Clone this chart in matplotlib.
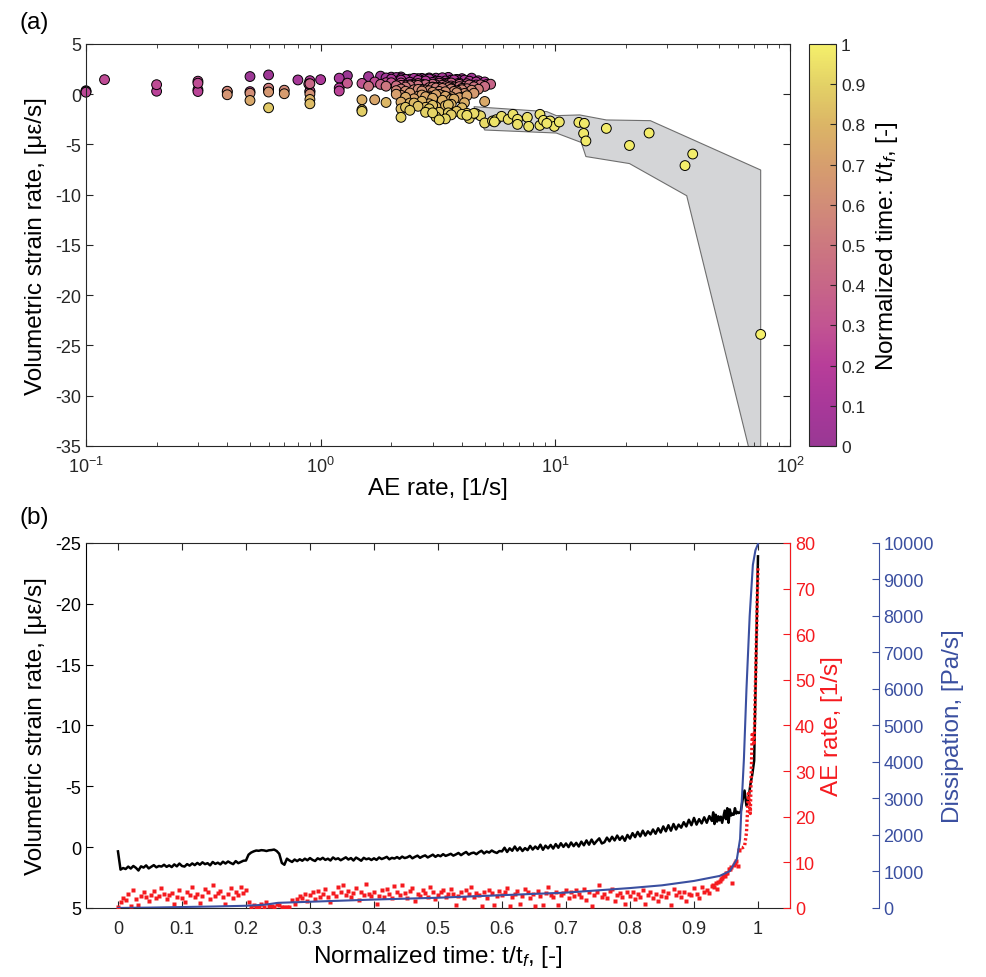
import numpy as np
import matplotlib
matplotlib.use('Agg')
import matplotlib.pyplot as plt
from matplotlib.colors import LinearSegmentedColormap

plt.rcParams['font.family'] = ['Liberation Sans', 'DejaVu Sans']
plt.rcParams['mathtext.fontset'] = 'custom'
plt.rcParams['mathtext.rm'] = 'Liberation Sans'
plt.rcParams['mathtext.it'] = 'Liberation Sans:italic'
plt.rcParams['axes.unicode_minus'] = False

# ---------------- data ----------------
# main time grid: 0 .. 0.928 step 0.004 (233 samples)
t_main = np.round(np.arange(233) * 0.004, 3)
t_fine = [0.930, 0.932, 0.934, 0.936, 0.938, 0.940, 0.942, 0.944, 0.946, 0.948,
          0.950, 0.952, 0.954, 0.956, 0.958, 0.960, 0.962, 0.964, 0.966, 0.968, 0.970]
t_tail = [0.973, 0.976, 0.979, 0.982, 0.985, 0.988, 0.991, 0.994, 1.0]

# volumetric strain rate [microstrain/s]
strain_main = [
    0.35, 1.85, 1.72, 1.80, 1.60, 1.76, 1.55, 1.70, 1.92, 1.58,
    1.68, 1.50, 1.75, 1.62, 1.48, 1.66, 1.55, 1.60, 1.45, 1.62,
    1.50, 1.64, 1.42, 1.58, 1.35, 1.55, 1.60, 1.40, 1.52, 1.34,
    1.48, 1.30, 1.45, 1.25, 1.40, 1.32, 1.50, 1.22, 1.38, 1.28,
    1.42, 1.20, 1.35, 1.18, 1.30, 1.40, 1.15, 1.32, 1.22, 1.12,
    1.10, 0.62, 0.45, 0.35, 0.28, 0.30, 0.25, 0.27, 0.32, 0.26,
    0.24, 0.20, 0.32, 0.55, 1.30, 1.45, 0.95, 1.10, 1.22, 1.02,
    1.15, 1.00, 1.12, 0.95, 1.08, 0.90, 1.05, 1.14, 0.92, 1.02,
    0.88, 1.05, 0.95, 1.10, 0.85, 1.00, 0.92, 1.08, 0.96, 0.84,
    1.02, 0.90, 1.10, 0.86, 0.98, 1.12, 0.88, 1.00, 0.93, 1.06,
    0.92, 1.05, 0.85, 0.98, 0.90, 0.80, 1.00, 0.88, 0.94, 0.82,
    0.95, 0.78, 0.90, 0.84, 0.72, 0.92, 0.80, 0.70, 0.88, 0.76,
    0.68, 0.85, 0.74, 0.62, 0.80, 0.66, 0.75, 0.58, 0.72, 0.64,
    0.55, 0.70, 0.60, 0.48, 0.66, 0.52, 0.40, 0.62, 0.50, 0.45,
    0.58, 0.42, 0.30, 0.52, 0.36, 0.45, 0.28, 0.40, 0.48, 0.32,
    0.35, 0.05, 0.40, 0.10, 0.30, -0.05, 0.28, 0.02, 0.32, 0.08,
    0.25, -0.10, 0.20, -0.05, 0.15, -0.20, 0.22, -0.12, 0.10, -0.18,
    0.12, -0.25, 0.05, -0.32, -0.02, -0.30, 0.00, -0.38, -0.08, -0.35,
    -0.05, -0.45, -0.15, -0.55, -0.20, -0.62, -0.25, -0.50, -0.72, -0.30,
    -0.40, -0.78, -0.48, -0.85, -0.55, -0.95, -0.60, -0.88, -0.52, -1.00,
    -0.70, -1.15, -0.82, -1.25, -0.88, -1.35, -0.95, -1.30, -1.05, -1.45,
    -1.10, -1.55, -1.20, -1.70, -1.30, -1.80, -1.35, -1.90, -1.45, -1.85,
    -1.60, -2.05, -1.70, -2.25, -1.80, -2.40, -1.85, -2.30, -1.95, -2.45,
    -2.00, -2.55, -2.15]
strain_fine = [-2.86, -1.90, -2.66, -2.10, -2.53, -2.20, -2.50, -2.00, -2.50, -3.00,
               -2.30, -3.20, -2.00, -3.10, -2.60, -2.75, -2.66, -3.20, -2.76, -2.90, -2.80]
strain_tail = [-2.90, -3.90, -4.65, -3.40, -3.86, -5.10, -5.95, -7.10, -23.9]

# AE rate [1/s]
ae_main = [
    0.1, 1.3, 2.2, 1.8, 3.1, 0.5, 4.0, 2.0, 0.6, 2.7,
    3.5, 2.4, 1.6, 2.9, 3.8, 2.1, 2.6, 4.4, 3.0, 1.9,
    2.8, 3.3, 0.8, 2.5, 3.9, 2.2, 1.2, 3.6, 2.9, 4.7,
    2.3, 3.1, 1.0, 2.7, 4.1, 3.4, 2.0, 5.0, 2.6, 3.2,
    3.7, 2.4, 0.9, 3.0, 4.3, 2.2, 3.5, 2.8, 4.6, 3.3,
    3.9, 1.2, 0.3, 0.6, 0.1, 0.2, 0.9, 0.3, 1.2, 0.5,
    0.4, 0.1, 0.9, 0.6, 0.3, 0.12, 0.2, 0.3, 1.7, 0.89,
    1.9, 2.6, 2.2, 3.1, 1.5, 2.8, 3.4, 2.0, 3.7, 2.5,
    3.0, 4.2, 2.4, 1.3, 3.3, 2.7, 4.6, 3.5, 5.1, 2.9,
    3.8, 2.3, 3.2, 4.4, 1.8, 3.6, 2.9, 5.3, 3.1, 2.6,
    3.4, 0.9, 2.7, 3.9, 2.5, 4.1, 3.0, 2.2, 4.8, 3.6,
    2.8, 5.0, 3.3, 2.1, 3.7, 4.3, 1.6, 3.0, 2.6, 3.9,
    3.2, 2.4, 4.5, 3.6, 1.9, 2.9, 3.4, 4.0, 2.3, 3.1,
    4.2, 3.0, 0.6, 2.7, 3.5, 2.2, 3.9, 3.1, 4.7, 2.5,
    3.3, 2.8, 0.4, 3.6, 2.1, 4.0, 3.2, 0.7, 2.6, 3.8,
    2.9, 3.5, 4.4, 0.5, 2.3, 3.1, 3.7, 0.9, 2.7, 4.1,
    3.4, 2.2, 3.0, 0.4, 3.8, 2.6, 0.6, 3.3, 4.5, 2.9,
    2.4, 3.6, 0.7, 2.9, 3.2, 4.0, 2.1, 3.5, 2.7, 3.9,
    3.1, 2.5, 4.2, 1.7, 3.4, 0.5, 2.8, 3.6, 5.0, 2.3,
    3.0, 2.2, 3.7, 4.1, 1.5, 2.9, 3.3, 2.4, 0.9, 3.6,
    2.7, 3.4, 1.9, 3.1, 2.5, 4.0, 0.9, 2.8, 3.5, 2.2,
    3.0, 1.5, 2.6, 3.8, 2.3, 3.2, 0.6, 4.2, 2.9, 3.5,
    2.4, 3.6, 1.5, 3.1, 2.8, 4.3, 3.0, 2.2, 4.6, 3.4,
    4.0, 3.2, 4.8]
ae_fine = [5.0, 4.5, 5.4, 4.2, 5.6, 5.9, 6.3, 6.6, 6.9, 6.9,
           7.6, 7.7, 8.6, 8.6, 8.9, 5.5, 9.5, 9.9, 10.4, 9.2, 12.6]
ae_tail = [13.3, 13.2, 13.5, 16.5, 25.1, 20.7, 38.5, 35.7, 75.0]

# dissipation [Pa/s]
t_diss = [0, 0.05, 0.1, 0.15, 0.2, 0.23, 0.25, 0.3, 0.4, 0.5, 0.6, 0.7, 0.8, 0.85,
          0.9, 0.94, 0.956, 0.967, 0.972, 0.974, 0.978, 0.982, 0.987, 0.992, 0.996, 1.0]
dissipation = [0, 10, 25, 40, 60, 90, 140, 170, 230, 280, 350, 420, 545, 620,
               740, 877, 1010, 1340, 1890, 2700, 4080, 6000, 8000, 9400, 9800, 9970]

# grey envelope in panel (a)
band_x = [4.5, 9.2, 10.1, 12.7, 16.5, 25.4, 75.0, 75.0, 36.3, 20.7, 13.5, 12.9, 10.1, 5.0]
band_y = [-1.24, -1.73, -2.13, -2.06, -2.56, -2.63, -7.54, -40.0, -10.1, -6.9, -6.2, -4.8, -3.86, -3.56]

cb_ticks = [0, 0.1, 0.2, 0.3, 0.4, 0.5, 0.6, 0.7, 0.8, 0.9, 1]
cb_ticklabels = ['0', '0.1', '0.2', '0.3', '0.4', '0.5', '0.6', '0.7', '0.8', '0.9', '1']
tb_ticks = [0, 0.1, 0.2, 0.3, 0.4, 0.5, 0.6, 0.7, 0.8, 0.9, 1]
tb_ticklabels = ['0', '0.1', '0.2', '0.3', '0.4', '0.5', '0.6', '0.7', '0.8', '0.9', '1']

t = np.concatenate([t_main, t_fine, t_tail])
strain = np.array(strain_main + strain_fine + strain_tail)
ae = np.array(ae_main + ae_fine + ae_tail)
assert len(t) == len(strain) == len(ae)

# colormap
cmap_colors = [(0.60, 0.22, 0.58), (0.66, 0.22, 0.60), (0.72, 0.24, 0.60), (0.76, 0.33, 0.57),
               (0.78, 0.40, 0.53), (0.80, 0.47, 0.50), (0.82, 0.55, 0.47), (0.84, 0.62, 0.43),
               (0.86, 0.71, 0.40), (0.89, 0.82, 0.40), (0.96, 0.94, 0.42)]
cmap = LinearSegmentedColormap.from_list('nt', cmap_colors)

AX = '#262626'
RED = '#f51a1f'
BLUE = '#3a4fa0'
FS_TICK = 13
FS_LAB = 17.5

fig = plt.figure(figsize=(9.87, 9.78), dpi=100)
axa = fig.add_axes([0.0871, 0.543, 0.7133, 0.411])
cax = fig.add_axes([0.8197, 0.543, 0.0274, 0.411])
axb = fig.add_axes([0.0871, 0.0706, 0.7133, 0.3732])

# ---------------- panel (a) ----------------
axa.fill(band_x, band_y, facecolor='#d4d5d7', edgecolor='#6e6e6e', lw=0.8, zorder=1)
sc = axa.scatter(ae, strain, c=t, cmap=cmap, vmin=0, vmax=1, s=50,
                 edgecolors='k', linewidths=0.7, zorder=2, clip_on=False)
axa.set_xscale('log')
axa.set_xlim(0.1, 100)
axa.set_ylim(-35, 5)
axa.set_yticks(np.arange(-35, 6, 5))
axa.tick_params(which='both', direction='in', top=True, right=True, colors=AX,
                labelsize=FS_TICK)
axa.tick_params(which='major', length=5)
axa.tick_params(which='minor', length=3)
axa.tick_params(axis='x', which='both', pad=7)
for sp in axa.spines.values():
    sp.set_color(AX)
    sp.set_linewidth(0.8)
axa.set_xlabel('AE rate, [1/s]', fontsize=FS_LAB, labelpad=1)
axa.set_ylabel('Volumetric strain rate, [\u03bc\u03b5/s]', fontsize=FS_LAB, labelpad=6)

cb = fig.colorbar(sc, cax=cax, ticks=cb_ticks)
cb.ax.set_yticklabels(cb_ticklabels)
cb.ax.tick_params(direction='in', length=4, labelsize=FS_TICK - 0.5, colors=AX)
cb.outline.set_edgecolor(AX)
cb.outline.set_linewidth(0.8)
cb.set_label('Normalized time: t/t$_f$, [-]', fontsize=FS_LAB, labelpad=6)

# ---------------- panel (b) ----------------
axb.plot(t, strain, color='k', lw=1.8, zorder=3)
axb.set_xlim(-0.05, 1.05)
axb.set_ylim(5, -25)
axb.set_xticks(tb_ticks)
axb.set_xticklabels(tb_ticklabels)
axb.set_yticks(np.arange(-25, 6, 5))
axb.tick_params(direction='in', top=True, length=5, colors=AX, labelsize=FS_TICK)
axb.tick_params(axis='x', pad=9)
axb.tick_params(axis='y', colors='k')
for sp in axb.spines.values():
    sp.set_color(AX)
    sp.set_linewidth(0.8)
axb.spines['left'].set_color('k')
axb.set_xlabel('Normalized time: t/t$_f$, [-]', fontsize=FS_LAB, labelpad=4)
axb.set_ylabel('Volumetric strain rate, [\u03bc\u03b5/s]', fontsize=FS_LAB, labelpad=6)

axr = axb.twinx()
n_tail = len(t_tail) + 1
axr.plot(t[:-n_tail + 1], ae[:-n_tail + 1], linestyle='none', marker='s', ms=2.3,
         mec='none', mfc=RED)
axr.plot(t[-n_tail:], ae[-n_tail:], color=RED, lw=2.4, linestyle=(0, (0.7, 0.7)),
         dash_capstyle='butt')
axr.set_ylim(0, 80)
axr.set_yticks(np.arange(0, 81, 10))
axr.tick_params(direction='in', length=5, colors=RED, labelsize=FS_TICK)
for k in ['top', 'left', 'bottom']:
    axr.spines[k].set_visible(False)
axr.spines['right'].set_color(RED)
axr.spines['right'].set_linewidth(0.8)
axr.set_ylabel('AE rate, [1/s]', color=RED, fontsize=FS_LAB, labelpad=4)

axd = axb.twinx()
axd.spines['right'].set_position(('axes', 1.126))
axd.plot(t_diss, dissipation, color=BLUE, lw=1.5)
axd.set_ylim(0, 10000)
axd.set_yticks(np.arange(0, 10001, 1000))
axd.tick_params(direction='in', length=5, colors=BLUE, labelsize=FS_TICK)
for k in ['top', 'left', 'bottom']:
    axd.spines[k].set_visible(False)
axd.spines['right'].set_color(BLUE)
axd.spines['right'].set_linewidth(0.8)
axd.set_ylabel('Dissipation, [Pa/s]', color=BLUE, fontsize=FS_LAB, labelpad=6)

fig.text(0.020, 0.9765, '(a)', fontsize=FS_LAB, va='center', ha='left')
fig.text(0.020, 0.4703, '(b)', fontsize=FS_LAB, va='center', ha='left')

fig.savefig('out.png', dpi=100)
